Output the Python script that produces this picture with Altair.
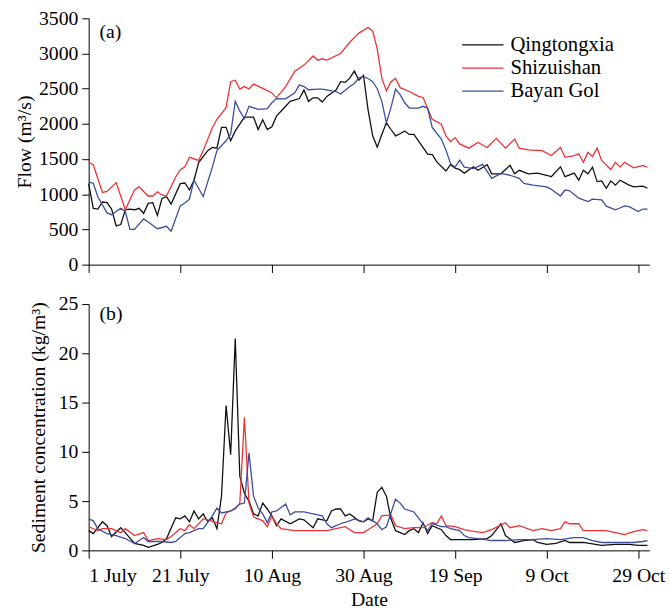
import altair as alt
import pandas as pd

stations = ["Qingtongxia", "Shizuishan", "Bayan Gol"]
colors = ["#111111", "#ec3236", "#3a4d9e"]

tick_days = [0, 20, 40, 60, 80, 100, 120]
tick_labels = ["1 July", "21 July", "10 Aug", "30 Aug", "19 Sep", "9 Oct", "29 Oct"]

# ---- Flow (m3/s) ----
flow_qtx_day = [0, 1, 2, 3, 4, 5, 6, 7, 8, 9, 10, 11, 12, 13, 14, 15, 16, 17, 18, 20, 21, 22, 23, 24, 26, 27, 28, 29, 30, 31, 32, 34, 36, 37, 38, 39, 40, 41, 43, 44, 46, 47, 48, 49, 50, 51, 52, 54, 55, 56, 57, 58, 59, 60, 61, 62, 63, 64, 65, 66, 67, 68, 69, 70, 71, 72, 74, 75, 76, 78, 79, 80, 81, 82, 84, 85, 87, 88, 90, 92, 93, 94, 96, 98, 100, 101, 103, 104, 106, 107, 108, 109, 110, 111, 112, 113, 114, 115, 116, 118, 119, 121, 122]
flow_qtx = [1150, 800, 790, 890, 880, 790, 550, 570, 780, 790, 780, 800, 730, 870, 880, 700, 940, 965, 860, 1150, 1160, 1060, 1200, 1450, 1620, 1665, 1655, 1950, 1950, 1760, 1900, 2095, 2095, 1920, 2060, 1920, 1960, 2110, 2250, 2320, 2360, 2480, 2320, 2370, 2370, 2310, 2390, 2480, 2600, 2590, 2650, 2750, 2620, 2690, 2200, 1830, 1670, 1850, 2015, 1920, 1830, 1860, 1900, 1850, 1850, 1760, 1570, 1565, 1460, 1330, 1420, 1370, 1350, 1300, 1390, 1340, 1420, 1290, 1290, 1410, 1290, 1340, 1290, 1300, 1270, 1250, 1390, 1250, 1300, 1200, 1340, 1290, 1385, 1180, 1190, 1085, 1190, 1130, 1200, 1130, 1105, 1115, 1085]

flow_szs_day = [0, 1, 3, 4, 6, 8, 10, 11, 13, 14, 15, 16, 17, 19, 20, 21, 22, 24, 25, 27, 28, 30, 31, 32, 33, 34, 35, 36, 38, 40, 41, 43, 45, 47, 49, 50, 51, 52, 55, 57, 59, 61, 62, 63, 64, 65, 66, 67, 68, 70, 72, 73, 75, 77, 78, 79, 80, 81, 83, 85, 87, 89, 91, 93, 94, 96, 99, 101, 103, 104, 106, 107, 108, 109, 110, 111, 112, 114, 115, 116, 117, 119, 121, 122]
flow_szs = [1455, 1420, 1025, 1040, 1165, 780, 1060, 1105, 975, 975, 1035, 990, 975, 1245, 1350, 1390, 1525, 1480, 1620, 1945, 2065, 2230, 2600, 2620, 2495, 2530, 2495, 2565, 2505, 2440, 2370, 2530, 2750, 2835, 2965, 2905, 2925, 2905, 3000, 3160, 3290, 3370, 3320, 3065, 2650, 2470, 2600, 2645, 2515, 2460, 2390, 2375, 2065, 1995, 1830, 1750, 1805, 1715, 1655, 1735, 1665, 1795, 1655, 1785, 1655, 1630, 1620, 1550, 1665, 1525, 1550, 1575, 1455, 1595, 1535, 1655, 1480, 1350, 1455, 1385, 1455, 1375, 1410, 1385]

flow_byg_day = [0, 1, 2, 4, 5, 7, 8, 9, 10, 12, 13, 15, 17, 18, 20, 21, 22, 23, 24, 25, 27, 28, 30, 31, 32, 33, 34, 35, 37, 39, 40, 41, 43, 45, 46, 47, 48, 50, 51, 53, 54, 55, 57, 58, 59, 60, 61, 62, 63, 64, 65, 66, 67, 68, 69, 70, 72, 73, 74, 75, 77, 78, 79, 80, 81, 82, 84, 86, 88, 90, 92, 94, 95, 97, 100, 101, 103, 104, 105, 107, 109, 110, 112, 113, 115, 116, 117, 118, 120, 121, 122]
flow_byg = [1175, 1155, 965, 735, 710, 800, 755, 500, 500, 650, 605, 510, 545, 475, 835, 875, 930, 1200, 1085, 965, 1385, 1620, 1760, 1855, 2320, 2180, 2075, 2250, 2205, 2215, 2300, 2360, 2355, 2440, 2555, 2530, 2485, 2495, 2495, 2470, 2460, 2425, 2530, 2575, 2655, 2670, 2645, 2600, 2500, 2320, 2015, 2230, 2495, 2415, 2300, 2225, 2225, 2250, 2225, 1950, 1785, 1630, 1435, 1385, 1485, 1385, 1365, 1425, 1225, 1295, 1270, 1225, 1155, 1130, 1105, 1070, 975, 1060, 1050, 945, 895, 930, 920, 830, 780, 805, 835, 825, 755, 790, 790]

# ---- Sediment concentration (kg/m3) ----
sed_qtx_day = [0, 1, 3, 4, 5, 7, 8, 10, 12, 13, 15, 16, 17, 19, 20, 21, 22, 23, 24, 25, 26, 27, 28, 29, 30, 31, 32, 33, 34, 35, 36, 37, 38, 39, 40, 41, 42, 44, 46, 47, 49, 50, 52, 53, 54, 55, 56, 57, 59, 60, 61, 62, 63, 64, 65, 66, 67, 69, 70, 71, 72, 73, 74, 75, 77, 78, 79, 80, 84, 87, 88, 90, 91, 93, 95, 97, 98, 100, 102, 104, 105, 108, 112, 115, 118, 120, 122]
sed_qtx = [2.0, 1.7, 2.9, 2.5, 1.4, 2.3, 1.8, 0.7, 0.5, 0.3, 0.6, 0.8, 1.2, 3.3, 3.2, 3.5, 2.9, 4.0, 3.2, 3.7, 2.9, 3.3, 2.2, 5.5, 14.7, 9.7, 21.5, 7.5, 5.8, 5.0, 3.7, 3.5, 4.8, 4.2, 3.5, 2.5, 3.2, 2.7, 3.2, 3.1, 2.3, 3.2, 3.0, 4.0, 4.2, 4.2, 3.5, 3.7, 3.0, 2.9, 3.2, 3.0, 5.9, 6.4, 5.5, 3.2, 2.0, 1.6, 2.0, 2.2, 1.8, 2.8, 1.7, 2.5, 2.1, 1.5, 1.1, 1.1, 1.1, 1.2, 1.5, 2.7, 1.5, 0.8, 1.0, 1.1, 0.8, 0.6, 0.7, 1.0, 0.8, 0.8, 0.5, 0.6, 0.6, 0.5, 0.5]

sed_szs_day = [0, 2, 3, 5, 7, 8, 10, 12, 13, 15, 17, 18, 20, 21, 22, 23, 25, 26, 28, 29, 30, 32, 33, 34, 35, 36, 38, 39, 40, 41, 42, 45, 49, 52, 54, 56, 58, 60, 61, 63, 64, 66, 67, 69, 71, 73, 75, 76, 77, 78, 80, 82, 83, 86, 88, 91, 92, 94, 97, 99, 101, 103, 104, 105, 107, 108, 113, 115, 117, 119, 121, 122]
sed_szs = [2.4, 2.0, 2.2, 2.2, 1.8, 2.2, 1.5, 1.8, 1.0, 1.2, 1.1, 1.4, 2.2, 2.0, 2.6, 2.2, 3.2, 3.1, 2.8, 2.7, 3.8, 4.2, 4.8, 13.5, 4.8, 3.4, 3.0, 2.4, 3.5, 2.7, 2.2, 2.0, 2.0, 2.0, 2.2, 2.4, 1.8, 1.8, 2.1, 2.7, 3.5, 3.6, 2.5, 2.2, 2.3, 2.3, 2.8, 2.7, 3.5, 2.5, 2.4, 2.1, 2.0, 1.8, 2.1, 2.8, 2.3, 2.5, 2.0, 2.2, 2.0, 2.2, 2.9, 2.7, 2.7, 2.0, 2.0, 1.8, 1.6, 1.9, 2.1, 2.0]

sed_byg_day = [0, 1, 2, 4, 6, 8, 10, 12, 13, 16, 18, 19, 21, 22, 24, 25, 27, 28, 29, 31, 32, 33, 34, 35, 36, 37, 38, 39, 40, 41, 43, 44, 45, 47, 49, 51, 52, 53, 55, 57, 58, 60, 61, 63, 64, 65, 66, 67, 68, 69, 71, 72, 73, 74, 75, 77, 78, 79, 81, 82, 83, 85, 88, 91, 94, 97, 100, 103, 106, 108, 110, 112, 115, 117, 119, 121, 122]
sed_byg = [3.2, 3.0, 2.2, 1.7, 1.5, 1.2, 0.7, 1.3, 0.9, 0.9, 0.8, 0.9, 1.7, 1.8, 2.2, 2.2, 3.5, 4.3, 3.8, 4.0, 4.3, 4.7, 4.8, 9.9, 5.5, 4.3, 3.7, 2.8, 3.9, 4.0, 4.7, 3.6, 3.9, 3.9, 3.7, 3.5, 2.7, 2.3, 2.7, 3.0, 3.2, 2.9, 3.3, 2.7, 2.1, 2.4, 3.8, 5.2, 4.8, 4.2, 3.9, 3.3, 2.7, 2.0, 2.7, 2.4, 2.4, 2.2, 2.0, 1.5, 1.3, 1.2, 1.0, 1.0, 1.1, 1.1, 1.2, 1.1, 1.3, 1.3, 1.0, 0.8, 0.8, 0.8, 0.8, 0.9, 1.0]


def frame(pairs):
    rows = []
    for name, days, vals in pairs:
        for i, (d, v) in enumerate(zip(days, vals)):
            rows.append({"day": d, "value": v, "station": name, "order": i})
    return pd.DataFrame(rows)


flow_df = frame([(stations[0], flow_qtx_day, flow_qtx),
                 (stations[1], flow_szs_day, flow_szs),
                 (stations[2], flow_byg_day, flow_byg)])
sed_df = frame([(stations[0], sed_qtx_day, sed_qtx),
                (stations[1], sed_szs_day, sed_szs),
                (stations[2], sed_byg_day, sed_byg)])

label_expr = " : ".join(f"datum.value == {d} ? '{l}'" for d, l in zip(tick_days, tick_labels)) + " : ''"

FONT = "Liberation Serif"
W, H = 569, 250
xscale = alt.Scale(domain=[0, 122.4], nice=False, zero=False)
cscale = alt.Scale(domain=stations, range=colors)

top_lines = alt.Chart(flow_df).mark_line(strokeWidth=1.3).encode(
    x=alt.X("day:Q", scale=xscale,
            axis=alt.Axis(values=tick_days, labels=False, title=None, grid=False, tickSize=8)),
    y=alt.Y("value:Q", scale=alt.Scale(domain=[0, 3500], nice=False),
            axis=alt.Axis(values=list(range(0, 3501, 500)), format="d", title="Flow (m³/s)",
                          grid=False, tickSize=7, labelPadding=4, titlePadding=4)),
    color=alt.Color("station:N", scale=cscale,
                    legend=alt.Legend(title=None, orient="none", legendX=378, legendY=16,
                                      symbolType="stroke", symbolSize=1764, symbolStrokeWidth=1.3,
                                      labelFontSize=21, labelFont=FONT, labelColor="black",
                                      labelOffset=6, rowPadding=1.5, clipHeight=22)),
    order="order:Q",
)
top_label = alt.Chart(pd.DataFrame({"t": ["(a)"]})).mark_text(
    font=FONT, fontSize=20, align="left", baseline="middle", color="black"
).encode(text="t:N", x=alt.value(11), y=alt.value(14))
top = alt.layer(top_lines, top_label).properties(width=W, height=H)

bot_lines = alt.Chart(sed_df).mark_line(strokeWidth=1.3).encode(
    x=alt.X("day:Q", scale=xscale,
            axis=alt.Axis(values=tick_days, labelExpr=label_expr, title="Date", grid=False,
                          tickSize=8, labelPadding=8, titlePadding=4, labelOverlap=False)),
    y=alt.Y("value:Q", scale=alt.Scale(domain=[0, 25], nice=False),
            axis=alt.Axis(values=[0, 5, 10, 15, 20, 25], format="d",
                          title="Sediment concentration (kg/m³)",
                          grid=False, tickSize=7, labelPadding=4, titlePadding=10)),
    color=alt.Color("station:N", scale=cscale, legend=None),
    order="order:Q",
)
bot_label = alt.Chart(pd.DataFrame({"t": ["(b)"]})).mark_text(
    font=FONT, fontSize=20, align="left", baseline="middle", color="black"
).encode(text="t:N", x=alt.value(11), y=alt.value(10))
bot = alt.layer(bot_lines, bot_label).properties(width=W, height=H)

chart = alt.vconcat(top, bot, spacing=20).resolve_legend(color="independent").properties(
    padding={"left": 15, "top": 4, "right": 5, "bottom": 0},
    background="white",
).configure(font=FONT).configure_view(stroke=None).configure_axis(
    labelFont=FONT, titleFont=FONT, labelFontSize=20, titleFontSize=20,
    titleFontWeight="normal", labelColor="black", titleColor="black",
    domainColor="black", tickColor="black", domainWidth=1, tickWidth=1,
).configure_legend(labelFont=FONT)

chart.save("out.html", embed_options={"renderer": "svg", "actions": False})
